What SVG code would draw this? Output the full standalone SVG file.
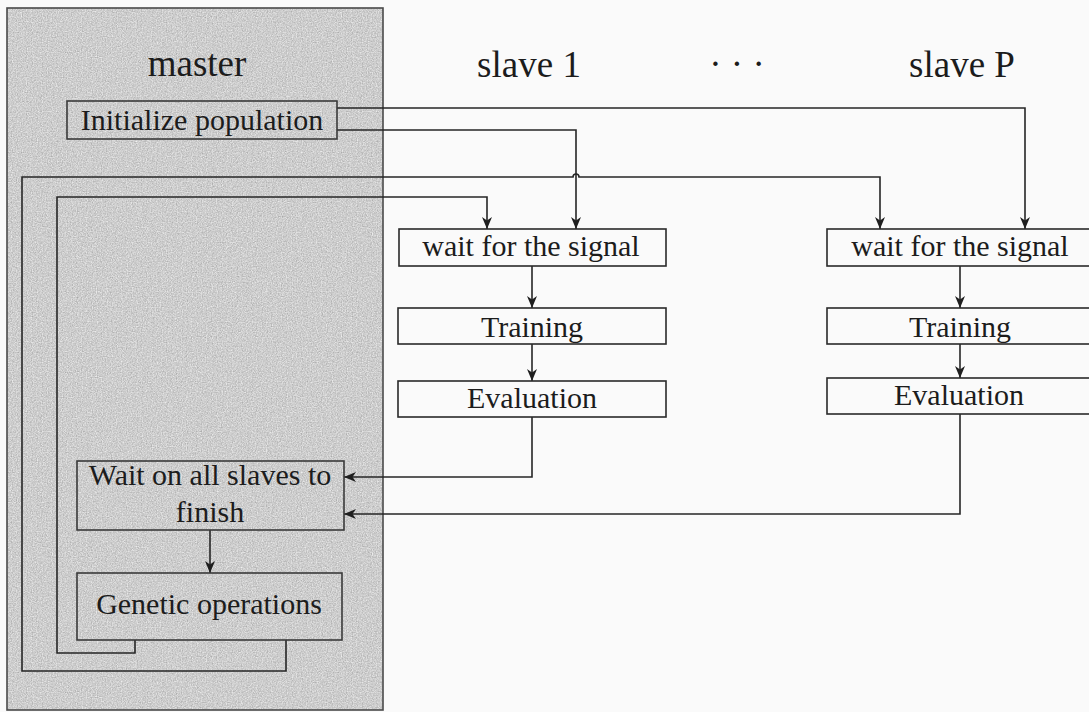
<svg xmlns="http://www.w3.org/2000/svg" width="1089" height="712" viewBox="0 0 1089 712">
  <style>
    .lbl { font-family: "Liberation Serif", "Times New Roman", serif; font-size: 30px; fill: #1c1c1c; text-anchor: middle; }
    .head { font-family: "Liberation Serif", "Times New Roman", serif; font-size: 37px; fill: #1c1c1c; text-anchor: middle; }
    .box { fill: none; stroke: #2a2a2a; stroke-width: 1.6; }
    .mbox { fill: none; stroke: #3a3a3a; stroke-width: 1.6; }
    .wire { fill: none; stroke: #262626; stroke-width: 1.6; }
  </style>
  <defs>
    <marker id="arrow" viewBox="0 0 12 10" refX="12" refY="5" markerWidth="12" markerHeight="10" markerUnits="userSpaceOnUse" orient="auto">
      <path d="M0,0 L12,5 L0,10 L3.5,5 Z" fill="#1f1f1f"/>
    </marker>
    <!-- speckled grey for the master lane -->
    <filter id="grain" x="0" y="0" width="100%" height="100%" color-interpolation-filters="sRGB">
      <feTurbulence type="fractalNoise" baseFrequency="0.8" numOctaves="2" seed="7" result="noise"/>
      <feColorMatrix in="noise" type="saturate" values="0" result="grey"/>
      <feComponentTransfer in="grey" result="tone">
        <feFuncR type="linear" slope="0.45" intercept="0.58"/>
        <feFuncG type="linear" slope="0.45" intercept="0.58"/>
        <feFuncB type="linear" slope="0.45" intercept="0.58"/>
        <feFuncA type="table" tableValues="1 1"/>
      </feComponentTransfer>
      <feComposite in="tone" in2="SourceGraphic" operator="in"/>
    </filter>
  </defs>

  <!-- page -->
  <rect x="0" y="0" width="1089" height="712" fill="#fafafa"/>

  <!-- master lane -->
  <g id="master-lane">
    <rect x="7" y="8" width="376" height="702" fill="#c4c4c4"/>
    <rect x="7" y="8" width="376" height="702" fill="#c4c4c4" filter="url(#grain)"/>
    <rect x="7" y="8" width="376" height="702" fill="none" stroke="#4a4a4a" stroke-width="1.6"/>
    <text class="head" x="197" y="76">master</text>
  </g>

  <!-- column headings -->
  <g id="heading-slave-1"><text class="head" x="529" y="77">slave 1</text></g>
  <g id="heading-dots"><text class="head" x="737" y="76">· · ·</text></g>
  <g id="heading-slave-P"><text class="head" x="962" y="77">slave P</text></g>

  <!-- connectors -->
  <g id="connectors" class="wire">
    <!-- initial signal to both slaves -->
    <path class="wire" d="M337,108 H1025 V229" marker-end="url(#arrow)"/>
    <path class="wire" d="M337,130 H576 V229" marker-end="url(#arrow)"/>
    <!-- loops back from genetic operations -->
    <path class="wire" d="M286,640 V671 H22 V177 H573 A3,3 0 0 1 579,177 H880 V229" marker-end="url(#arrow)"/>
    <path class="wire" d="M135,640 V653 H57 V197 H487 V229" marker-end="url(#arrow)"/>
    <!-- slave 1 chain -->
    <path class="wire" d="M532,266 V308" marker-end="url(#arrow)"/>
    <path class="wire" d="M532,344 V381" marker-end="url(#arrow)"/>
    <!-- slave P chain -->
    <path class="wire" d="M960,266 V308" marker-end="url(#arrow)"/>
    <path class="wire" d="M960,344 V378" marker-end="url(#arrow)"/>
    <!-- results back to master -->
    <path class="wire" d="M532,417 V477 H344" marker-end="url(#arrow)"/>
    <path class="wire" d="M960,414 V514 H344" marker-end="url(#arrow)"/>
    <!-- master chain -->
    <path class="wire" d="M210,530 V573" marker-end="url(#arrow)"/>
  </g>

  <!-- master nodes -->
  <g id="init-population">
    <rect class="mbox" x="67" y="101" width="270" height="38"/>
    <text class="lbl" x="202" y="130">Initialize population</text>
  </g>
  <g id="wait-all-slaves">
    <rect class="mbox" x="77" y="461" width="267" height="69"/>
    <text class="lbl" x="210" y="485">Wait on all slaves to</text>
    <text class="lbl" x="210" y="522">finish</text>
  </g>
  <g id="genetic-operations">
    <rect class="mbox" x="77" y="573" width="265" height="67"/>
    <text class="lbl" x="209" y="614">Genetic operations</text>
  </g>

  <!-- slave 1 nodes -->
  <g id="s1-wait">
    <rect class="box" x="399" y="229" width="267" height="37"/>
    <text class="lbl" x="531" y="256">wait for the signal</text>
  </g>
  <g id="s1-training">
    <rect class="box" x="398" y="308" width="268" height="36"/>
    <text class="lbl" x="532" y="337">Training</text>
  </g>
  <g id="s1-evaluation">
    <rect class="box" x="398" y="381" width="268" height="36"/>
    <text class="lbl" x="532" y="408">Evaluation</text>
  </g>

  <!-- slave P nodes -->
  <g id="sP-wait">
    <rect class="box" x="827" y="229" width="267" height="37"/>
    <text class="lbl" x="960" y="256">wait for the signal</text>
  </g>
  <g id="sP-training">
    <rect class="box" x="827" y="308" width="267" height="36"/>
    <text class="lbl" x="960" y="337">Training</text>
  </g>
  <g id="sP-evaluation">
    <rect class="box" x="827" y="378" width="267" height="36"/>
    <text class="lbl" x="959" y="405">Evaluation</text>
  </g>
</svg>
